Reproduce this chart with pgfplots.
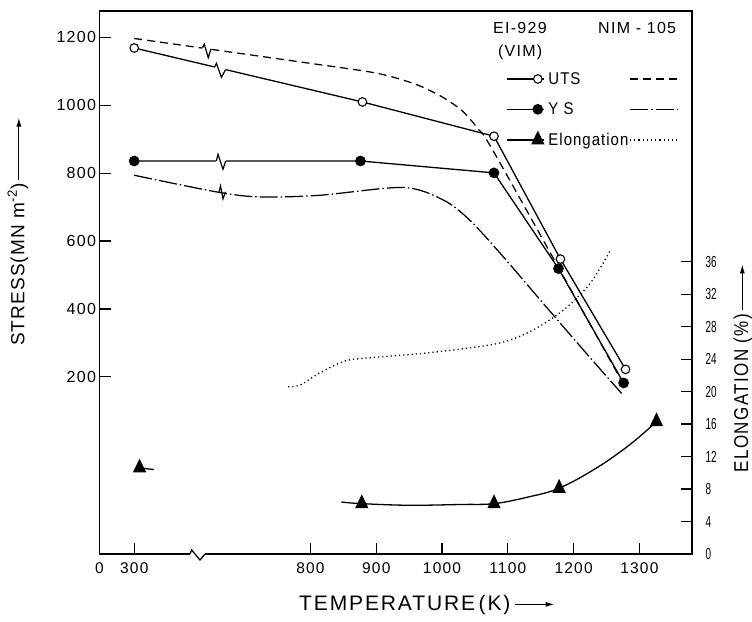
\documentclass[border=0pt]{standalone}
\usepackage{pgfplots}
\usepackage{pgfplotstable}
\pgfplotsset{compat=1.18}
\usetikzlibrary{arrows.meta}
\usepackage{fontspec}
\setmainfont{Liberation Sans}
\newfontfamily\labfont[LetterSpace=9]{Liberation Sans}
\newfontfamily\stressfont[LetterSpace=6]{Liberation Sans}
\newfontfamily\tickfont[LetterSpace=8]{Liberation Sans}
\newfontfamily\narrowfont[FakeStretch=0.62]{Liberation Sans}
\newfontfamily\elfont[FakeStretch=0.85,LetterSpace=7]{Liberation Sans}
\newfontfamily\legfont[FakeStretch=0.88,LetterSpace=6]{Liberation Sans}

% EI-929 (VIM): UTS and YS
\pgfplotstableread{
T    S
300  1169
879  1010
1079 909
1180 547
1279 222
}\utsvim
\pgfplotstableread{
T    S
300  836
876  836
1079 801
1177 519
1276 182
}\ysvim
% NIM-105: UTS and YS
\pgfplotstableread{
T    S
300  1197
784  1128
900  1095
960  1062
1000 1025
1030 985
1055 930
1083 848
1271 195
}\utsnim
\pgfplotstableread{
T    S
300  794
657  745
723  730
814  735
941  758
1002 721
1042 662
1093 554
1154 416
1215 279
1273 151
}\ysnim
% elongation (%)
\pgfplotstableread{
T    E
766  20.6
784  20.8
814  22.3
850  23.7
880  24.1
982  24.8
1083 25.9
1134 27.4
1184 30.0
1225 33.3
1256 37.4
}\elnim
\pgfplotstableread{
T    E
346  10.6
878  6.2
1079 6.2
1178 8.1
1326 16.3
}\elvim
\pgfplotstableread{
T    E
847  6.4
878  6.2
950  6.0
1030 6.1
1079 6.2
1130 7.0
1178 8.1
1235 10.6
1286 13.5
1326 16.3
}\elvimcurve

\pgfplotsset{
  common/.style={
    scale only axis, width=592.5bp, height=543bp,
    at={(99.5bp,68bp)}, anchor=south west,
    % broken temperature axis: 0-300 K squeezed left of the break
    x coord trafo/.code={\pgfmathparse{##1<550 ? 479.3+0.176*##1 : ##1}},
    xmin=0, xmax=1380,
    tick align=inside, major tick length=11bp,
    axis line style={line width=1.3bp},
    every tick/.style={black, line width=1.2bp},
    /pgf/number format/assume math mode=true,
    /pgf/number format/1000 sep={},
    clip=false,
  },
  utsvim/.style={black, line width=1.3bp, solid, mark=*, mark size=4.3bp,
    mark options={solid, fill=white, line width=1.1bp}},
  ysvim/.style={black, line width=1.3bp, solid, mark=*, mark size=4.7bp,
    mark options={solid, fill=black}},
  elvim/.style={black, line width=1.3bp, solid, mark=triangle*, mark size=6.5bp,
    mark options={solid, fill=black, yscale=1.2}},
  utsnim/.style={black, line width=1.25bp, dash pattern=on 8bp off 5bp},
  ysnim/.style={black, line width=1.25bp, dash pattern=on 18bp off 3bp on 1.5bp off 3bp},
  elnim/.style={black, line width=1.3bp, dash pattern=on 1.2bp off 3bp},
  vimleg/.style={legend image code/.code={
    \draw[##1,mark=none] (0bp,0bp) -- (37bp,0bp);
    \draw[##1] plot coordinates {(31bp,0bp)};}},
  nimleg/.style={legend image code/.code={
    \draw[##1] (0bp,0bp) -- (48bp,0bp);}},
}

\newcommand{\uparrowline}[1]{\tikz[baseline=-0.55ex]\draw[-{Latex[length=9bp,width=5bp]},line width=1.2bp] (0,0)--(#1,0);}

\begin{document}
\begin{tikzpicture}
\useasboundingbox (0,0) rectangle (752bp,622bp);

% ---- stress axis (left) ----
\begin{axis}[common,
  ymin=-322, ymax=1278,
  xtick={0,300,800,900,1000,1100,1200,1300},
  xticklabels={0,300,800,900,1000,1100,1200,1300},
  xtick pos=bottom, ytick pos=left,
  ytick={200,400,600,800,1000,1200},
  xticklabel style={font=\tickfont\fontsize{15.5bp}{15.5bp}\selectfont, yshift=-5bp},
  yticklabel style={font=\tickfont\fontsize{16bp}{16bp}\selectfont},
  xlabel={\labfont\fontsize{21bp}{21bp}\selectfont TEMPERATURE\,(K)\,\uparrowline{40bp}},
  every axis x label/.style={at={(axis description cs:0.553,-0.094)}, anchor=center},
  ylabel={\stressfont\fontsize{19bp}{19bp}\selectfont STRESS(MN m\textsuperscript{-2})\,\uparrowline{62bp}},
  every axis y label/.style={at={(axis description cs:-0.1376,0.594)}, rotate=90, anchor=center},
]
\addplot[utsnim, smooth, tension=0.45] table[x=T, y=S] {\utsnim};
\addplot[ysnim, smooth, tension=0.5] table[x=T, y=S] {\ysnim};
\addplot[utsvim] table[x=T, y=S] {\utsvim};
\addplot[ysvim] table[x=T, y=S] {\ysvim};

% break marks on the curves
\draw[white, line width=3.5bp] (axis cs:654,1112) -- ++(11bp,-2.6bp);
\draw[black, line width=1.2bp] (axis cs:654,1112) -- ++(2bp,4bp) -- ++(5bp,-14bp) -- ++(4bp,7.4bp);
\draw[white, line width=3.5bp] (axis cs:636,1170) -- ++(8.4bp,-1.2bp);
\draw[black, line width=1.2bp] (axis cs:636,1170) -- ++(1.7bp,3.4bp) -- ++(4bp,-13.4bp) -- ++(2.7bp,8.8bp);
\draw[white, line width=3.5bp] (axis cs:657,836) -- ++(9.3bp,0bp);
\draw[black, line width=1.2bp] (axis cs:657,836) -- ++(1.6bp,6.7bp) -- ++(5bp,-15bp) -- ++(2.7bp,8.3bp);
\draw[black, line width=1.2bp] (axis cs:661,745) -- ++(1.5bp,6bp) -- ++(2.5bp,-13bp) -- ++(2.5bp,7bp);
% break mark on the temperature axis
\fill[white] (axis description cs:0.1527,0) ++(0bp,-2bp) rectangle ++(15bp,4bp);
\draw[black, line width=1.3bp] (axis description cs:0.1527,0) -- ++(1.7bp,4bp) -- ++(8.3bp,-10bp) -- ++(5bp,6bp);
% legend headings
\node[anchor=west, inner sep=0pt, font=\tickfont\fontsize{16bp}{16bp}\selectfont] at (axis description cs:0.664,0.9687) {EI-929};
\node[anchor=west, inner sep=0pt, font=\tickfont\fontsize{16bp}{16bp}\selectfont] at (axis description cs:0.6724,0.9245) {(VIM)};
\node[anchor=west, inner sep=0pt, font=\tickfont\fontsize{16bp}{16bp}\selectfont] at (axis description cs:0.8414,0.9687) {NIM - 105};
\end{axis}

% ---- elongation axis (right) ----
\begin{axis}[common,
  axis y line*=right, axis x line=none,
  ymin=0, ymax=66.87,
  ytick={0,4,8,12,16,20,24,28,32,36},
  yticklabel style={font=\narrowfont\fontsize{16bp}{16bp}\selectfont, xshift=10bp},
  ylabel={\elfont\fontsize{20bp}{20bp}\selectfont ELONGATION (\%)\,\uparrowline{46bp}},
  every axis y label/.style={at={(axis description cs:1.086,0.3425)}, rotate=90, anchor=center},
  legend columns=2,
  legend cell align=left,
  legend style={draw=none, fill=none, at={(axis description cs:0.681,0.893)}, anchor=north west,
    font=\legfont\fontsize{17bp}{17bp}\selectfont, row sep=15bp,
    nodes={inner sep=1bp}, /tikz/every odd column/.append style={column sep=3bp}},
]
\addlegendimage{vimleg, utsvim}
\addlegendentry{UTS}
\addlegendimage{nimleg, utsnim}
\addlegendentry{}
\addlegendimage{vimleg, ysvim}
\addlegendentry{Y S}
\addlegendimage{nimleg, ysnim}
\addlegendentry{}
\addlegendimage{vimleg, elvim}
\addlegendentry{Elongation}
\addlegendimage{nimleg, elnim}
\addlegendentry{}

\addplot[elnim, smooth, tension=0.5, forget plot] table[x=T, y=E] {\elnim};
\addplot[black, line width=1.3bp, smooth, tension=0.6, forget plot] table[x=T, y=E] {\elvimcurve};
\addplot[elvim, only marks, forget plot] table[x=T, y=E] {\elvim};
\addplot[black, line width=1.3bp, forget plot] coordinates {(346,10.6) (470,10.4)};
\end{axis}
\end{tikzpicture}
\end{document}
